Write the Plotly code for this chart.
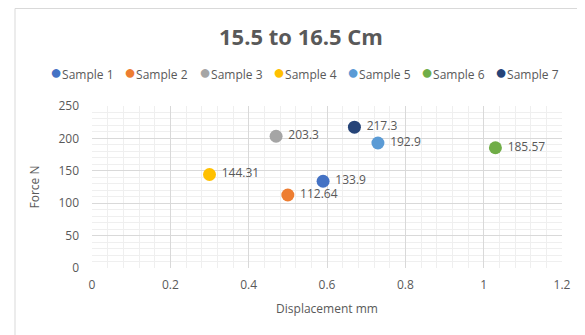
import plotly.graph_objects as go

samples = ["Sample 1", "Sample 2", "Sample 3", "Sample 4", "Sample 5", "Sample 6", "Sample 7"]
displacement = [0.59, 0.50, 0.47, 0.30, 0.73, 1.03, 0.67]
force = [133.9, 112.64, 203.3, 144.31, 192.9, 185.57, 217.3]
labels = ["133.9", "112.64", "203.3", "144.31", "192.9", "185.57", "217.3"]
colors = ["#4472C4", "#ED7D31", "#A5A5A5", "#FFC000", "#5B9BD5", "#70AD47", "#264478"]

FONT = "Open Sans, Liberation Sans, sans-serif"

fig = go.Figure()
for name, x, y, lab, c in zip(samples, displacement, force, labels, colors):
    fig.add_trace(go.Scatter(
        x=[x], y=[y], name=name, mode="markers+text",
        text=[lab], texttemplate="&nbsp;%{text}", textposition="middle right",
        textfont=dict(size=12, color="#595959", family=FONT),
        marker=dict(size=13, color=c),
    ))

# page has an 8px body margin -> figure coordinates are page coordinates minus 8
W, H = 577, 327
L, R, T, B = 84, 23, 98, 67
pw, ph = W - L - R, H - T - B

fig.update_layout(
    width=W, height=H,
    margin=dict(l=L, r=R, t=T, b=B, autoexpand=False),
    paper_bgcolor="white", plot_bgcolor="white",
    font=dict(family=FONT, color="#595959", size=11),
    title=dict(text="<b>15.5 to 16.5 Cm</b>", x=293 / W, xanchor="center",
               y=1 - 29 / H, yanchor="middle", yref="container",
               font=dict(size=22, color="#595959", family=FONT)),
    showlegend=False,
    xaxis=dict(range=[0, 1.2], dtick=0.2, tick0=0, showgrid=True,
               gridcolor="#D9D9D9", gridwidth=1,
               minor=dict(dtick=0.04, showgrid=True, gridcolor="#EFEFEF"),
               zeroline=False, showline=False, ticks="", automargin=False,
               ticklabelstandoff=8,
               tickfont=dict(size=12, color="#595959"),
               title=dict(text="Displacement mm", font=dict(size=12, color="#595959"), standoff=12)),
    yaxis=dict(range=[0, 250], dtick=50, tick0=0, showgrid=True,
               gridcolor="#D9D9D9", gridwidth=1,
               minor=dict(dtick=10, showgrid=True, gridcolor="#EFEFEF"),
               zeroline=False, showline=False, ticks="", automargin=False,
               ticklabelstandoff=12,
               tickfont=dict(size=12, color="#595959"),
               title=dict(text="Force N", font=dict(size=12, color="#595959"), standoff=16)),
)

# legend drawn as a row of coloured dots and names (Excel-style compact legend)
legend_x = [47, 121, 196, 270, 344, 418, 492]  # dot centres, figure px
legend_y = 64
for name, c, lx in zip(samples, colors, legend_x):
    fig.add_annotation(
        xref="paper", yref="paper",
        x=(lx - 7 - L) / pw, y=1 + (T - legend_y) / ph,
        xanchor="left", yanchor="middle", showarrow=False,
        text=f"<span style='color:{c};font-size:20px'>●</span>{name}",
        font=dict(size=12, color="#595959", family=FONT),
    )

# outer chart border (Excel chart area)
fig.add_shape(type="rect", xref="paper", yref="paper",
              x0=(7 - L) / pw, x1=(600 - L) / pw,
              y0=-(360 - (H - B)) / ph, y1=1 + (T - 0.5) / ph,
              line=dict(color="#D9D9D9", width=1), layer="below")

fig.write_html("out.html")
